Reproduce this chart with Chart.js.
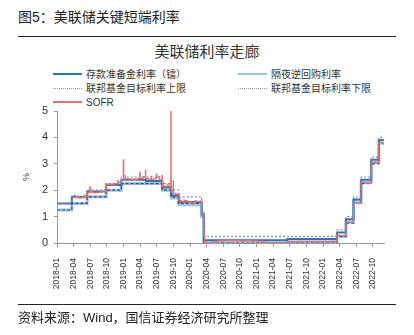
<!DOCTYPE html>
<html>
<head>
<meta charset="utf-8">
<script src="https://cdn.jsdelivr.net/npm/chart.js@4"></script>
<style>
  html, body { margin: 0; padding: 0; background: #fff; }
  body { width: 414px; height: 335px; position: relative; overflow: hidden;
         font-family: "Liberation Sans", "Noto Sans CJK SC", sans-serif; color: #222; }
  #cv { position: absolute; left: 0; top: 0; }
  .hd { position: absolute; left: 18px; top: 8px; font-size: 14px; line-height: 18px; }
  .rule { position: absolute; left: 18px; width: 378px; height: 0; border-top: 1px solid #222; }
  .ttl { position: absolute; left: 0; width: 414px; top: 43px; text-align: center; font-size: 15px; line-height: 18px; color: #333; }
  .src { position: absolute; left: 18px; top: 310px; font-size: 13px; line-height: 16px; }
  #legend { position: absolute; left: 53px; top: 68px; font-size: 10px; color: #333; }
  .li { position: absolute; white-space: nowrap; line-height: 14px; height: 14px; }
  .sw { display: inline-block; width: 29px; height: 0; vertical-align: middle; margin-right: 4px; position: relative; top: -1px; }
</style>
</head>
<body>
<div class="hd">图5：美联储关键短端利率</div>
<div class="rule" style="top:36px"></div>
<div class="ttl">美联储利率走廊</div>
<div id="legend"></div>
<canvas id="cv" width="414" height="335"></canvas>
<div class="rule" style="top:304px"></div>
<div class="src">资料来源：Wind，国信证券经济研究所整理</div>
<script>
"use strict";

// 联邦基金目标利率区间 (上限 / 下限)
var rangeDates = ['2018-01-01', '2018-03-22', '2018-06-14', '2018-09-27', '2018-12-20', '2019-08-01', '2019-09-19',
    '2019-10-31', '2020-03-04', '2020-03-16', '2022-03-17', '2022-05-05', '2022-06-16', '2022-07-28', '2022-09-22',
    '2022-11-03', '2022-11-30'];
var upperRate = [1.50, 1.75, 2.00, 2.25, 2.50, 2.25, 2.00, 1.75, 1.25, 0.25, 0.50, 1.00, 1.75, 2.50, 3.25, 4.00, 4.00];
var lowerRate = [1.25, 1.50, 1.75, 2.00, 2.25, 2.00, 1.75, 1.50, 1.00, 0.00, 0.25, 0.75, 1.50, 2.25, 3.00, 3.75, 3.75];

// 存款准备金利率 (IOER / IORB)
var ioerDates = ['2018-01-01', '2018-03-22', '2018-06-14', '2018-09-27', '2018-12-20', '2019-05-02', '2019-08-01',
    '2019-09-19', '2019-10-31', '2020-03-04', '2020-03-16', '2021-06-17', '2022-03-17', '2022-05-05', '2022-06-16',
    '2022-07-28', '2022-09-22', '2022-11-03', '2022-11-30'];
var ioerRate = [1.50, 1.75, 1.95, 2.20, 2.40, 2.35, 2.10, 1.80, 1.55, 1.10, 0.10, 0.15, 0.40, 0.90, 1.65, 2.40, 3.15, 3.90, 3.90];

// 隔夜逆回购利率
var rrpDates = ['2018-01-01', '2018-03-22', '2018-06-14', '2018-09-27', '2018-12-20', '2019-08-01', '2019-09-19',
    '2019-10-31', '2020-03-04', '2020-03-16', '2021-06-17', '2022-03-17', '2022-05-05', '2022-06-16', '2022-07-28',
    '2022-09-22', '2022-11-03', '2022-11-30'];
var rrpRate = [1.25, 1.50, 1.75, 2.00, 2.25, 2.00, 1.70, 1.45, 1.00, 0.00, 0.05, 0.25, 0.80, 1.55, 2.30, 3.05, 3.80, 3.80];

// SOFR
var sofrDates = [
    '2018-04-02', '2018-04-10', '2018-04-20', '2018-05-01', '2018-05-15', '2018-05-31', '2018-06-01', '2018-06-14',
    '2018-06-29', '2018-07-02', '2018-07-16', '2018-08-01', '2018-08-15', '2018-08-31', '2018-09-04', '2018-09-17',
    '2018-09-27', '2018-09-28', '2018-10-01', '2018-10-15', '2018-10-31', '2018-11-01', '2018-11-15', '2018-11-30',
    '2018-12-03', '2018-12-20', '2018-12-31',
    '2019-01-02', '2019-01-10', '2019-02-01', '2019-02-15', '2019-02-28', '2019-03-01', '2019-03-15', '2019-03-29',
    '2019-04-01', '2019-04-15', '2019-04-30', '2019-05-01', '2019-05-15', '2019-05-31', '2019-06-03', '2019-06-14',
    '2019-06-28', '2019-07-01', '2019-07-15', '2019-07-31', '2019-08-01', '2019-08-15', '2019-08-30', '2019-09-03',
    '2019-09-16', '2019-09-17', '2019-09-18', '2019-09-19', '2019-09-30', '2019-10-01', '2019-10-15', '2019-10-31',
    '2019-11-01', '2019-11-15', '2019-11-29', '2019-12-02', '2019-12-16', '2019-12-31',
    '2020-01-02', '2020-01-15', '2020-01-31', '2020-02-03', '2020-02-18', '2020-02-28', '2020-03-04', '2020-03-12',
    '2020-03-16', '2020-03-20', '2020-04-01', '2020-05-01', '2020-06-01', '2020-07-01', '2020-07-15', '2020-08-03',
    '2020-09-01', '2020-10-01', '2020-11-02', '2020-12-01',
    '2021-01-04', '2021-02-01', '2021-03-01', '2021-04-01', '2021-05-03', '2021-06-01', '2021-06-17', '2021-08-02',
    '2021-10-01', '2021-12-01',
    '2022-01-03', '2022-03-01', '2022-03-17', '2022-04-01', '2022-05-05', '2022-06-01', '2022-06-16', '2022-07-01',
    '2022-07-28', '2022-08-15', '2022-09-01', '2022-09-22', '2022-10-03', '2022-10-31', '2022-11-03', '2022-11-30'
];
var sofrRate = [
    1.80, 1.72, 1.75, 1.70, 1.72, 1.81, 1.76, 1.90,
    2.12, 1.95, 1.90, 1.91, 1.93, 1.96, 1.95, 1.95,
    2.18, 2.25, 2.23, 2.21, 2.24, 2.20, 2.25, 2.35,
    2.30, 2.40, 3.15,
    2.55, 2.43, 2.42, 2.40, 2.45, 2.40, 2.44, 2.67,
    2.45, 2.50, 2.75, 2.45, 2.40, 2.50, 2.40, 2.43,
    2.60, 2.50, 2.40, 2.55, 2.15, 2.14, 2.20, 2.15,
    2.43, 5.25, 2.55, 1.95, 2.35, 1.88, 1.85, 1.85,
    1.60, 1.55, 1.62, 1.60, 1.55, 1.55,
    1.54, 1.53, 1.60, 1.58, 1.57, 1.59, 1.10, 0.95,
    0.26, 0.04, 0.01, 0.04, 0.08, 0.12, 0.10, 0.09,
    0.09, 0.08, 0.09, 0.08,
    0.07, 0.03, 0.01, 0.01, 0.01, 0.01, 0.05, 0.05,
    0.05, 0.05,
    0.05, 0.05, 0.30, 0.28, 0.79, 0.78, 1.50, 1.50,
    2.30, 2.28, 2.27, 3.05, 3.04, 3.05, 3.80, 3.82
];

var yTicks = [0, 1, 2, 3, 4, 5];

// 日期 -> 自2018-01起的月数
function monthPos(d) {
    var p = d.split('-');
    var y = +p[0], m = +p[1], day = +p[2];
    var dim = new Date(y, m, 0).getDate();
    return (y - 2018) * 12 + (m - 1) + (day - 1) / dim;
}
function toPoints(dates, vals) {
    return dates.map(function (d, i) { return { x: monthPos(d), y: vals[i] }; });
}
function tickLabel(v) {
    var y = 2018 + Math.floor(v / 12);
    var m = v % 12 + 1;
    return y + '-' + (m < 10 ? '0' + m : m);
}

var series = [
    { label: '存款准备金利率（镭）', data: toPoints(ioerDates, ioerRate), borderColor: '#2e75b6', borderWidth: 2, dash: [], order: 3, col: 0, row: 0 },
    { label: '隔夜逆回购利率', data: toPoints(rrpDates, rrpRate), borderColor: '#9dc3e6', borderWidth: 3, dash: [], order: 4, col: 1, row: 0 },
    { label: '联邦基金目标利率上限', data: toPoints(rangeDates, upperRate), borderColor: '#8c8c8c', borderWidth: 1.2, dash: [2, 2], order: 1, col: 0, row: 1 },
    { label: '联邦基金目标利率下限', data: toPoints(rangeDates, lowerRate), borderColor: '#3a4a66', borderWidth: 1.2, dash: [3, 2], order: 2, col: 1, row: 1 },
    { label: 'SOFR', data: toPoints(sofrDates, sofrRate), borderColor: '#e57373', borderWidth: 1.3, dash: [], order: 0, col: 0, row: 2 }
];

// legend
var lg = document.getElementById('legend');
series.forEach(function (s) {
    var el = document.createElement('div');
    el.className = 'li';
    el.style.left = (s.col * 185) + 'px';
    el.style.top = (s.row * 14) + 'px';
    var sw = s.dash.length ? '1px dotted #999' : '2px solid ' + s.borderColor;
    el.innerHTML = '<span class="sw" style="border-top:' + sw + '"></span>' + s.label;
    lg.appendChild(el);
});

var chart = new Chart(document.getElementById('cv'), {
    type: 'line',
    data: {
        datasets: series.map(function (s) {
            return {
                label: s.label,
                data: s.data,
                borderColor: s.borderColor,
                borderWidth: s.borderWidth,
                borderDash: s.dash,
                stepped: true,
                pointRadius: 0,
                fill: false,
                order: s.order
            };
        })
    },
    options: {
        responsive: false,
        animation: false,
        layout: { padding: { left: 0, top: 111, right: 30, bottom: 42 } },
        plugins: { legend: { display: false }, title: { display: false }, tooltip: { enabled: false } },
        scales: {
            x: {
                type: 'linear',
                min: 0,
                max: 59,
                afterFit: function (scale) { scale.height = 50; },
                afterBuildTicks: function (scale) {
                    var t = [];
                    for (var v = 0; v <= 57; v += 3) t.push({ value: v });
                    scale.ticks = t;
                },
                ticks: {
                    callback: function (v) { return tickLabel(v); },
                    minRotation: 90, maxRotation: 90, autoSkip: false,
                    padding: 11, color: '#333',
                    font: { size: 8.5, family: '"Liberation Sans", sans-serif' }
                },
                grid: { drawOnChartArea: false, tickLength: 4, color: '#999' },
                border: { color: '#999' }
            },
            y: {
                min: 0,
                max: 5,
                afterFit: function (scale) { scale.width = 57; },
                afterBuildTicks: function (scale) {
                    scale.ticks = yTicks.map(function (v) { return { value: v }; });
                },
                ticks: { padding: 6, color: '#333', font: { size: 11, family: '"Liberation Sans", sans-serif' } },
                grid: { drawOnChartArea: false, tickLength: 3, color: '#999' },
                border: { color: '#999' },
                title: { display: true, text: '%', padding: { top: 21 }, color: '#333', font: { size: 9 } }
            }
        }
    }
});
</script>
</body>
</html>
